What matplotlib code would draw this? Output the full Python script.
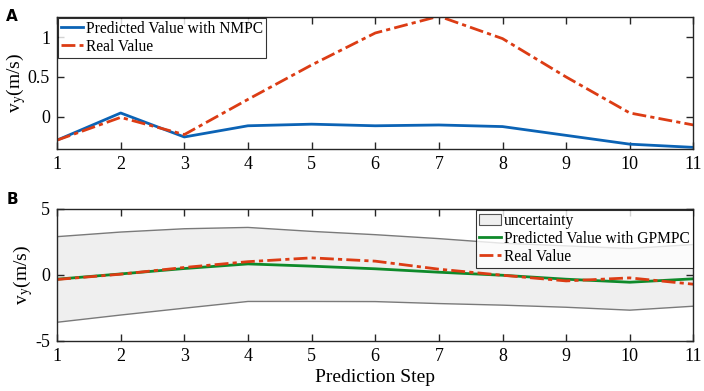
import numpy as np
import matplotlib
matplotlib.use("Agg")
import matplotlib.pyplot as plt
from matplotlib.patches import Patch

plt.rcParams['font.family'] = ['Liberation Serif', 'DejaVu Serif']
plt.rcParams['mathtext.fontset'] = 'stix'
plt.rcParams['axes.unicode_minus'] = False

# --- data ---
steps = [1, 2, 3, 4, 5, 6, 7, 8, 9, 10, 11]

# panel A
nmpc_pred = [-0.29, 0.05, -0.25, -0.11, -0.09, -0.11, -0.10, -0.12, -0.23, -0.34, -0.38]
real_a = [-0.29, -0.005, -0.22, 0.22, 0.65, 1.05, 1.26, 0.98, 0.50, 0.05, -0.10]

# panel B
gp_upper = [2.9, 3.25, 3.5, 3.6, 3.3, 3.05, 2.75, 2.4, 2.2, 2.0, 2.3]
gp_lower = [-3.6, -3.05, -2.53, -2.02, -2.02, -2.03, -2.18, -2.3, -2.46, -2.68, -2.38]
gpmpc_pred = [-0.33, 0.07, 0.48, 0.83, 0.66, 0.46, 0.2, -0.03, -0.33, -0.56, -0.3]
real_b = [-0.35, 0.05, 0.56, 1.0, 1.29, 1.04, 0.43, -0.03, -0.46, -0.23, -0.71]

blue = '#0B63B5'
red = '#DC3C14'
green = '#0E8A2A'
dashdot = (0, (5, 1.5, 1.5, 1.5))

fig = plt.figure(figsize=(7.04, 3.91), dpi=100)
ax1 = fig.add_axes([0.081, 0.619, 0.904, 0.3375])
ax2 = fig.add_axes([0.081, 0.1286, 0.904, 0.3369])

leg_kw = dict(fontsize=11.2, handlelength=1.4, handletextpad=0.2, borderpad=0.2,
              labelspacing=0.12, borderaxespad=0.05, fancybox=False)

# --- A ---
ax1.plot(steps, nmpc_pred, color=blue, lw=2, label='Predicted Value with NMPC')
ax1.plot(steps, real_a, color=red, lw=2, linestyle=dashdot, label='Real Value')
ax1.set_xlim(1, 11)
ax1.set_ylim(-0.4, 1.25)
ax1.set_yticks([0, 0.5, 1])
ax1.set_yticklabels(['0', '0.5', '1'])
ax1.set_ylabel(r'v$_{\mathrm{y}}$(m/s)', fontsize=14, labelpad=0)
leg1 = ax1.legend(loc='upper left', **leg_kw)
leg1.get_frame().set_edgecolor('black')
leg1.get_frame().set_linewidth(0.8)

# --- B ---
ax2.fill_between(steps, gp_lower, gp_upper, facecolor='#EFEFEF', edgecolor='none',
                 label='uncertainty')
ax2.plot(steps, gp_upper, color='#7a7a7a', lw=1)
ax2.plot(steps, gp_lower, color='#7a7a7a', lw=1)
ax2.plot(steps, gpmpc_pred, color=green, lw=2, label='Predicted Value with GPMPC')
ax2.plot(steps, real_b, color=red, lw=2, linestyle=dashdot, label='Real Value')
ax2.set_xlim(1, 11)
ax2.set_ylim(-5, 5)
ax2.set_yticks([-5, 0, 5])
ax2.set_ylabel(r'v$_{\mathrm{y}}$(m/s)', fontsize=14, labelpad=0)
ax2.set_xlabel('Prediction Step', fontsize=14, labelpad=3)
h, l = ax2.get_legend_handles_labels()
h[0] = Patch(facecolor='#EFEFEF', edgecolor='#555555', linewidth=0.8)
leg2 = ax2.legend(h, l, loc='upper right', **leg_kw)
leg2.get_frame().set_edgecolor('black')
leg2.get_frame().set_linewidth(0.8)

for ax in (ax1, ax2):
    ax.set_xticks(steps)
    ax.tick_params(direction='in', top=True, right=True, labelsize=13, length=5,
                   width=1, color='#262626', pad=5)
    for s in ax.spines.values():
        s.set_color('#262626')
        s.set_linewidth(1)

fig.text(0.009, 0.978, 'A', fontsize=11, fontweight='bold', family='DejaVu Sans', va='top')
fig.text(0.009, 0.51, 'B', fontsize=11, fontweight='bold', family='DejaVu Sans', va='top')

fig.savefig('out.png', dpi=100)
